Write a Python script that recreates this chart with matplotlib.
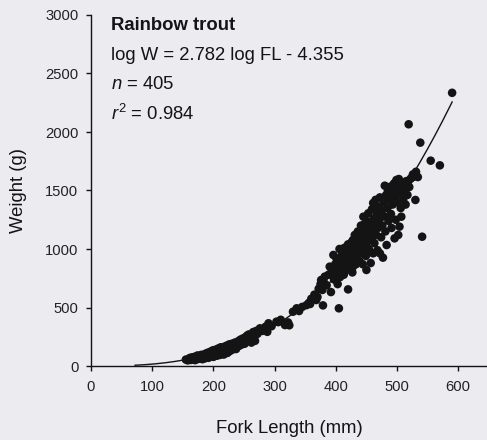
import numpy as np
import matplotlib
matplotlib.use('Agg')
import matplotlib.pyplot as plt

plt.rcParams['font.family'] = ['Liberation Sans', 'DejaVu Sans']
plt.rcParams['mathtext.fontset'] = 'custom'
plt.rcParams['mathtext.rm'] = 'Liberation Sans'
plt.rcParams['mathtext.it'] = 'Liberation Sans:italic'

# fork length (mm) and weight (g) of each fish
fork_length = [
    155, 158, 160, 162, 163, 165, 166, 168, 170, 170, 172, 174, 175, 176, 178, 179,
    180, 181, 182, 183, 185, 185, 186, 188, 189, 190, 191, 192, 193, 194, 195, 196,
    197, 198, 199, 200, 200, 201, 202, 203, 204, 205, 206, 207, 208, 209, 210, 210,
    211, 212, 213, 214, 215, 216, 217, 218, 219, 220, 221, 222, 223, 224, 225, 226,
    227, 228, 229, 230, 231, 232, 233, 235, 236, 237, 238, 240, 241, 242, 244, 245,
    246, 248, 250, 251, 252, 254, 255, 257, 258, 260, 262, 263, 265, 267, 268, 270,
    272,
    276, 280, 285, 288, 290, 295, 303, 306, 310, 317, 322, 324, 330, 336, 340, 345,
    352, 356, 358, 360, 365, 368, 370, 372, 375, 376, 378, 379, 381, 382, 385, 388,
    390, 392, 393, 396, 397, 399,
    400, 401, 402, 403, 404, 405, 406, 407, 408, 409, 410, 411, 412, 413, 414, 415,
    416, 417, 418, 419, 420, 420, 421, 422, 423, 424, 425, 426, 427, 428, 428, 429,
    430, 431, 432, 433, 434, 435, 436, 437, 438, 439, 440, 441, 442, 443, 444, 445,
    445, 446, 447, 448, 449, 450, 450, 451, 452, 453, 454, 455, 456, 457, 458, 459,
    460, 461, 461, 462, 463, 464, 465, 466, 467, 468, 469, 470, 471, 472, 472, 474,
    475, 476, 477, 478, 479, 480, 481, 482, 483, 484, 485, 486, 487, 489, 490, 491,
    492, 493, 495, 496, 497, 498, 499, 500, 501, 502, 503, 504, 505, 506, 507, 508,
    510, 512, 514, 515, 517, 518, 520, 522, 524, 526, 528, 530, 531, 534,
    519, 538, 541, 555, 570, 590,
]
weight = [
    55, 48, 62, 70, 52, 58, 75, 64, 50, 80, 68, 90, 60, 74, 85, 66,
    95, 72, 58, 88, 100, 78, 65, 92, 110, 82, 100, 70, 118, 95, 85, 105,
    128, 92, 115, 78, 135, 104, 120, 95, 140, 112, 88, 128, 150, 102, 118, 138,
    95, 160, 125, 110, 145, 132, 98, 165, 120, 150, 138, 175, 112, 158, 140, 185,
    128, 165, 150, 190, 140, 172, 158, 200, 165, 145, 185, 210, 170, 192, 225, 180,
    205, 235, 212, 190, 245, 225, 260, 235, 270, 248, 200, 265, 290, 255, 215, 300,
    275,
    322, 300, 335, 292, 365, 340, 379, 375, 395, 350, 372, 348, 464, 493, 470, 505,
    520, 540, 530, 575, 610, 564, 590, 660, 700, 735, 650, 518, 710, 764, 690, 780,
    849, 632, 800, 949, 740, 870,
    780, 920, 830, 700, 870, 493, 1000, 760, 900, 810, 950, 860, 877, 780, 1010, 920,
    840, 821, 980, 890, 655, 1040, 930, 860, 1006, 960, 890, 1060, 800, 1077, 849, 990,
    920, 1120, 1020, 870, 960, 1091, 1150, 1000, 900, 963, 1060, 1200, 1120, 980, 870, 1205,
    1276, 1030, 1160, 1100, 940, 821, 1240, 1060, 1180, 1305, 1000, 1120, 1230, 880, 1080, 1340,
    1160, 1393, 963, 1260, 1050, 1200, 1420, 1120, 1300, 990, 1180, 1360, 1250, 1441, 963, 1100,
    1330, 1200, 926, 1400, 1280, 1541, 1150, 1460, 1034, 1350, 1500, 1240, 1420, 1533, 1300, 1180,
    1480, 1380, 1560, 1091, 1450, 1250, 1590, 1400, 1520, 1120, 1598, 1191, 1470, 1350, 1276, 1560,
    1420, 1500, 1380, 1580, 1462, 1575, 1530, 1600, 1610, 1638, 1620, 1419, 1660, 1615,
    2066, 1909, 1105, 1755, 1715, 2335,
]

# length-weight regression: log W = b log FL + a
slope_b = 2.782
intercept_a = -4.355
fit_start, fit_end = 72, 590

bg = '#ebebf0'
ink = '#141414'

fig = plt.figure(figsize=(4.87, 4.40), dpi=100, facecolor=bg)
ax = fig.add_axes([91 / 487, 74 / 440, 396 / 487, 351 / 440], facecolor=bg)

ax.scatter(fork_length, weight, s=38, color=ink, edgecolors='none', zorder=3)

fl = np.linspace(fit_start, fit_end, 300)
w = 10 ** (slope_b * np.log10(fl) + intercept_a)
ax.plot(fl, w, color=ink, lw=1.0, zorder=4)

ax.set_xlim(0, 647)
ax.set_ylim(0, 3000)
ax.set_xticks(np.arange(0, 700, 100))
ax.set_yticks(np.arange(0, 3500, 500))

for side in ['top', 'right']:
    ax.spines[side].set_visible(False)
for side in ['left', 'bottom']:
    ax.spines[side].set_linewidth(1.0)
    ax.spines[side].set_color(ink)

ax.tick_params(axis='both', direction='out', length=3.6, width=1.0, color=ink,
               labelsize=10.6, labelcolor='#222222')
ax.tick_params(axis='x', pad=6.5)
ax.tick_params(axis='y', pad=5.5)

ax.set_xlabel('Fork Length (mm)', fontsize=13.3, color=ink)
ax.set_ylabel('Weight (g)', fontsize=13.3, color=ink)
ax.xaxis.set_label_coords(0.5, -0.177)
ax.yaxis.label.set_va('center')
ax.xaxis.label.set_va('center')
ax.yaxis.set_label_coords(-0.184, 0.5)

tx = 0.0505
ax.text(tx, 0.9715, 'Rainbow trout', transform=ax.transAxes, fontsize=13.3,
        fontweight='bold', color=ink, va='center')
ax.text(tx, 0.886, 'log W = 2.782 log FL - 4.355', transform=ax.transAxes,
        fontsize=13.3, color=ink, va='center')
ax.text(tx, 0.803, '$n$ = 405', transform=ax.transAxes, fontsize=13.3,
        color=ink, va='center')
ax.text(tx, 0.718, '$r^2$ = 0.984', transform=ax.transAxes, fontsize=13.3,
        color=ink, va='center')

fig.savefig('out.png', dpi=100, facecolor=bg)
